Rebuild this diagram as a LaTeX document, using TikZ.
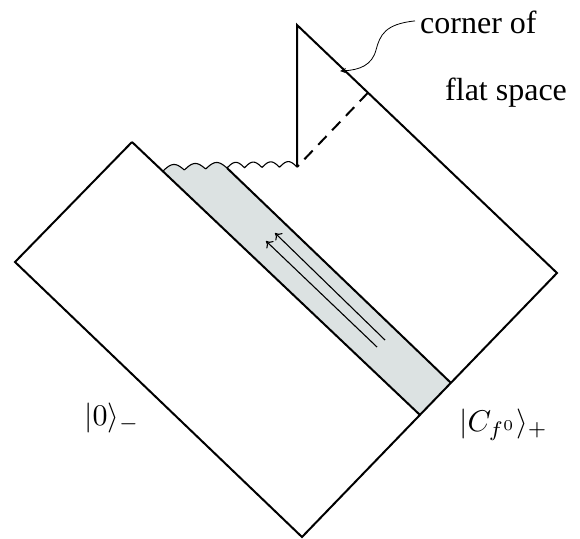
\documentclass[tikz,border=0pt]{standalone}
\usepackage{graphicx}
\usepackage[no-math]{fontspec}
\setmainfont{Liberation Serif}
\usetikzlibrary{arrows.meta,calc}
\definecolor{stripgray}{RGB}{220,226,226}
\begin{document}
\begin{tikzpicture}[x=1pt,y=-1pt,
  edge/.style={line width=2pt, line join=miter},
  wave/.style={line width=1.1pt},
  thinarrow/.style={line width=1.1pt, -{To[length=6pt,width=10pt]}},
  pointer/.style={line width=0.8pt, -{Stealth[length=6pt,width=5pt]}},
  txt/.style={inner sep=0pt, anchor=base west, font=\rmfamily\fontsize{32}{38}\selectfont},
  mlbl/.style={inner sep=0pt, anchor=base west},
  ]
\useasboundingbox (0,0) rectangle (580,538);
% corner points
\coordinate (L) at (15,262);
\coordinate (A) at (132,142);
\coordinate (B) at (420,415);
\coordinate (Bo) at (302,537);
\coordinate (R) at (557,273);
\coordinate (T) at (297,25);
\coordinate (V) at (297,167);
\coordinate (W1) at ($(A)!0.106!(B)$);
\coordinate (C1) at (227,168);
\coordinate (C2) at (451,383);
\coordinate (D) at ($(T)!0.273!(R)$);
\coordinate (CP) at (340,71);
% shaded strip
\fill[stripgray] plot[domain=0:1,samples=80] ({163+64*\x},{171-3*\x-6*abs(sin(3*180*\x))}) -- (C2) -- (B) -- cycle;
% wavy boundary
\draw[wave] plot[domain=0:1,samples=80] ({163+64*\x},{171-3*\x-6*abs(sin(3*180*\x))});
\draw[wave] plot[domain=0:1,samples=100] ({227+70*\x},{168-1*\x-5.5*abs(sin(4*180*\x))});
% outline
\draw[edge] (A) -- (L) -- (Bo) -- (R) -- (T) -- (V);
\draw[edge] (A) -- (B);
\draw[edge] (C1) -- (C2);
\draw[edge, dash pattern=on 12pt off 8pt] (D) -- (V);
% arrows in strip
\coordinate (a1s) at (385,340);
\coordinate (a1e) at (275,233);
\coordinate (a2s) at (377,347);
\coordinate (a2e) at (266,241);
\draw[thinarrow] (a1s) -- (a1e);
\draw[thinarrow] (a2s) -- (a2e);
% texts
\node[txt] (corner) at (420,33) {corner of};
\node[txt] (flat) at (445,100) {flat space};
\node[mlbl] (vac) at (84,425) {\scalebox{3}{$|0\rangle_-$}};
\node[mlbl] (cf) at (459,431) {\scalebox{3}{$|C_{f^0}\rangle_+$}};
% pointer
\draw[pointer] ($(corner.west)+(-5,-1)$) .. controls (385,24) and (380,35) .. (376,50) .. controls (372,65) and (360,70) .. (CP);
\end{tikzpicture}
\end{document}
